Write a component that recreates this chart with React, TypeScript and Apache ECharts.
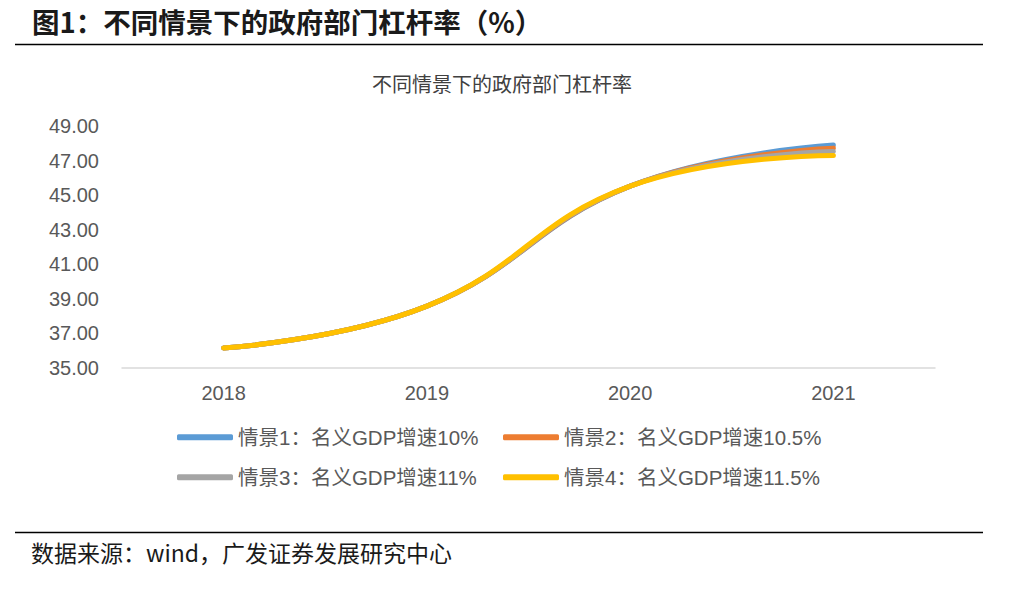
import React, { useEffect, useRef } from "react";
import * as echarts from "echarts";

const categories = ["2018", "2019", "2020", "2021"];
const seriesNames = [
  "情景1：名义GDP增速10%",
  "情景2：名义GDP增速10.5%",
  "情景3：名义GDP增速11%",
  "情景4：名义GDP增速11.5%",
];
const scenario1 = [36.16, 38.58, 45.52, 47.9];
const scenario2 = [36.16, 38.58, 45.52, 47.72];
const scenario3 = [36.16, 38.58, 45.52, 47.53];
const scenario4 = [36.16, 38.58, 45.52, 47.3];
const colors = ["#5b9bd5", "#ed7d31", "#a5a5a5", "#ffc000"];

const CJK = "'Liberation Sans', 'Noto Sans CJK SC', sans-serif";

export default function App() {
  const ref = useRef<HTMLDivElement>(null);
  useEffect(() => {
    if (!ref.current) return;
    const chart = echarts.init(ref.current, undefined, { renderer: "svg" });
    const data = [scenario1, scenario2, scenario3, scenario4];
    const legendPos = [
      [177, 427],
      [503, 427],
      [177, 467],
      [503, 467],
    ];
    chart.setOption({
      animation: false,
      backgroundColor: "#ffffff",
      title: {
        text: "不同情景下的政府部门杠杆率",
        left: 497,
        textAlign: "center",
        top: 68,
        textStyle: { fontSize: 20, fontWeight: "normal", color: "#404040", fontFamily: "'Noto Sans CJK SC', sans-serif" },
      },
      legend: legendPos.map((p, i) => ({
        left: p[0],
        top: p[1],
        data: [seriesNames[i]],
        icon: "roundRect",
        itemWidth: 56,
        itemHeight: 6,
        itemGap: 0,
        textStyle: { fontSize: 20.5, color: "#595959", fontFamily: CJK, padding: [0, 0, 0, 0] },
        padding: 0,
      })),
      grid: { left: 122, right: 81, top: 126, bottom: 236 },
      xAxis: {
        type: "category",
        data: categories,
        boundaryGap: true,
        axisLine: { lineStyle: { color: "#d9d9d9", width: 1.5 } },
        axisTick: { show: false },
        axisLabel: { fontSize: 20, color: "#595959", fontFamily: CJK, margin: 15 },
      },
      yAxis: {
        type: "value",
        min: 35,
        max: 49,
        interval: 2,
        axisLine: { show: false },
        axisTick: { show: false },
        splitLine: { show: false },
        axisLabel: {
          fontSize: 20,
          color: "#595959",
          fontFamily: CJK,
          margin: 23,
          formatter: (v: number) => v.toFixed(2),
        },
      },
      series: data.map((d, i) => ({
        name: seriesNames[i],
        type: "line",
        data: d,
        smooth: 0.45,
        symbol: "none",
        color: colors[i],
        lineStyle: { width: 5, color: colors[i], cap: "round" },
        z: 2 + i,
      })),
      graphic: [
        {
          type: "text",
          left: 32,
          top: 7,
          style: {
            text: "图1：不同情景下的政府部门杠杆率（%）",
            fontSize: 27.5,
            fontWeight: "bold",
            fill: "#1a1a1a",
            fontFamily: "'Noto Sans CJK SC', sans-serif",
          },
        },
        { type: "line", shape: { x1: 15, y1: 44.5, x2: 983, y2: 44.5 }, style: { stroke: "#000", lineWidth: 1.5 } },
        { type: "line", shape: { x1: 15, y1: 532.5, x2: 983, y2: 532.5 }, style: { stroke: "#000", lineWidth: 1.5 } },
        {
          type: "text",
          left: 31,
          top: 540,
          style: {
            text: "数据来源：wind，广发证券发展研究中心",
            fontSize: 23,
            fill: "#1a1a1a",
            fontFamily: "'Noto Sans CJK SC', sans-serif",
          },
        },
      ],
    });
    return () => chart.dispose();
  }, []);
  return <div ref={ref} style={{ position: "absolute", left: 0, top: 0, width: 1016, height: 604 }} />;
}
